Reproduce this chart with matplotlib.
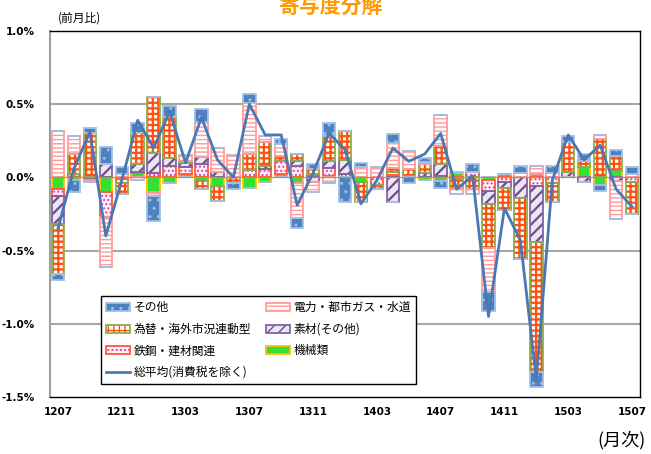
import numpy as np
import matplotlib.pyplot as plt
from matplotlib.patches import Patch
from matplotlib.lines import Line2D

plt.rcParams['font.family'] = ['Noto Sans CJK JP', 'DejaVu Sans']

MONTHS = ['1207', '1208', '1209', '1210', '1211', '1212',
          '1301', '1302', '1303', '1304', '1305', '1306',
          '1307', '1308', '1309', '1310', '1311', '1312',
          '1401', '1402', '1403', '1404', '1405', '1406',
          '1407', '1408', '1409', '1410', '1411', '1412',
          '1501', '1502', '1503', '1504', '1505', '1506', '1507']

# contributions (% points), stacking order from zero outwards
kikai = [-0.08, -0.02, 0.00, -0.10, -0.01, 0.03, -0.10, -0.04, 0.02, -0.02, -0.06, 0.00,
         -0.07, -0.03, 0.025, -0.035, 0.01, 0.01, 0.00, -0.03, 0.00, 0.015, 0.01, -0.015,
         -0.025, 0.03, 0.00, -0.02, 0.025, 0.00, 0.02, 0.00, 0.00, 0.07, -0.055, 0.045, 0.00]
tekko = [-0.05, 0.02, -0.01, -0.17, -0.03, 0.01, 0.03, 0.08, 0.05, 0.09, 0.00, 0.00,
         0.05, 0.055, 0.09, 0.08, 0.01, 0.055, 0.02, 0.00, -0.05, 0.02, 0.00, 0.00,
         0.01, -0.01, 0.035, -0.07, -0.03, 0.00, -0.06, -0.04, 0.00, 0.00, 0.00, 0.00, -0.03]
sozai = [-0.19, 0.00, -0.01, 0.09, 0.00, 0.05, 0.14, 0.05, 0.03, 0.05, 0.04, 0.00,
         0.00, 0.02, 0.00, 0.03, -0.03, 0.045, 0.10, 0.00, 0.00, -0.165, 0.00, 0.03,
         0.08, 0.00, 0.00, -0.09, -0.04, -0.14, -0.38, 0.00, 0.035, -0.03, 0.00, -0.025, 0.00]
kawase = [-0.34, 0.14, 0.30, 0.00, -0.07, 0.21, 0.38, 0.28, 0.01, -0.06, -0.10, -0.04,
          0.11, 0.17, 0.03, 0.05, 0.04, 0.17, 0.20, -0.14, -0.03, 0.03, 0.05, 0.06,
          0.125, -0.07, -0.08, -0.305, -0.15, -0.42, -0.89, -0.13, 0.21, 0.04, 0.26, 0.10, -0.22]
denryoku = [0.32, 0.12, -0.01, -0.34, 0.02, -0.02, -0.03, 0.00, 0.04, 0.24, 0.16, 0.15,
            0.35, 0.04, 0.08, -0.24, -0.07, -0.035, 0.00, 0.07, 0.07, 0.17, 0.12, 0.015,
            0.21, -0.03, -0.03, -0.295, 0.00, 0.03, 0.06, 0.03, 0.00, 0.00, 0.03, -0.26, 0.02]
sonota = [-0.04, -0.08, 0.04, 0.12, 0.05, 0.07, -0.17, 0.08, 0.00, 0.09, 0.00, -0.04,
          0.06, 0.00, 0.035, -0.07, 0.03, 0.09, -0.17, 0.03, 0.00, 0.06, -0.04, 0.025,
          -0.05, 0.01, 0.055, -0.135, 0.00, 0.045, -0.10, 0.045, 0.04, 0.05, -0.035, 0.04, 0.05]
total = [-0.35, 0.06, 0.31, -0.40, -0.02, 0.39, 0.20, 0.45, 0.10, 0.41, 0.12, 0.00,
         0.50, 0.29, 0.29, -0.19, 0.03, 0.30, 0.19, -0.18, -0.02, 0.20, 0.11, 0.16,
         0.30, -0.08, 0.01, -0.95, -0.21, -0.43, -1.38, -0.02, 0.29, 0.12, 0.22, -0.08, -0.20]

# name, values, face, hatch, hatch colour, outline, hatch width
SERIES = [
    ('機械類', kikai, '#33E033', None, '#33E033', '#FFC000', 1.0),
    ('鉄鋼・建材関連', tekko, '#FFF2FA', '....', '#E040B0', '#FF5A3C', 1.0),
    ('素材(その他)', sozai, '#EDE6F2', '///', '#6A4C8C', '#8064A2', 1.6),
    ('為替・海外市況連動型', kawase, 'white', '+++', '#FF5010', '#8FAE4F', 1.6),
    ('電力・都市ガス・水道', denryoku, 'white', '----', '#FF9C9C', '#FF9C9C', 1.0),
    ('その他', sonota, '#4F81BD', '..', '#9CBDE6', '#9DC0EA', 1.0),
]

fig = plt.figure(figsize=(6.51, 4.54), dpi=100)
ax = fig.add_axes([50 / 651, 1 - 397 / 454, 590 / 651, 366 / 454])

x = np.arange(len(MONTHS))
width = 0.78
pos_base = np.zeros(len(x))
neg_base = np.zeros(len(x))
handles = {}
for name, vals, face, hatch, hcol, edge, hlw in SERIES:
    v = np.array(vals)
    pos = np.where(v > 0, v, 0)
    neg = np.where(v < 0, v, 0)
    with plt.rc_context({'hatch.linewidth': hlw}):
        for part, base in ((pos, pos_base), (neg, neg_base)):
            ax.bar(x, part, width, bottom=base, color=face, hatch=hatch,
                   edgecolor=hcol, linewidth=0, zorder=2)
            ax.bar(x, part, width, bottom=base, fill=False,
                   edgecolor=edge, linewidth=1.3, zorder=3)
        fill = Patch(facecolor=face, hatch=hatch, edgecolor=hcol, linewidth=0)
    outline = Patch(fill=False, edgecolor=edge, linewidth=1.3)
    handles[name] = (fill, outline)
    pos_base += pos
    neg_base += neg

ax.plot(x, total, color='#4A78B5', linewidth=2, zorder=5)

ax.set_xlim(-0.5, len(x) - 0.5)
ax.set_ylim(-1.5, 1.0)
yt = [1.0, 0.5, 0.0, -0.5, -1.0, -1.5]
ax.set_yticks(yt)
ax.set_yticklabels([f'{v:.1f}%' for v in yt], family=['Liberation Sans Narrow', 'DejaVu Sans'],
                   fontsize=7.5, fontweight='bold')
ax.set_xticks(x[::4])
ax.set_xticklabels(MONTHS[::4], family=['Liberation Sans Narrow', 'DejaVu Sans'],
                   fontsize=7.5, fontweight='bold')
ax.tick_params(length=0)
ax.tick_params(axis='y', pad=11)
ax.tick_params(axis='x', pad=7)
for g in [0.5, -0.5, -1.0]:
    ax.axhline(g, color='#A6A6A6', linewidth=1.5, zorder=1)
ax.axhline(0, color='#C09050', linewidth=0.9, zorder=4)
for s in ax.spines.values():
    s.set_color('black')
    s.set_linewidth(1.0)
ax.spines['left'].set_color('#A0A0A0')
ax.spines['left'].set_linewidth(1.5)

order = ['その他', '為替・海外市況連動型', '鉄鋼・建材関連', None,
         '電力・都市ガス・水道', '素材(その他)', '機械類']
hs, ls = [], []
for n in order:
    if n is None:
        hs.append(Line2D([], [], color='#4A78B5', linewidth=2))
        ls.append('総平均(消費税を除く)')
    else:
        hs.append(handles[n])
        ls.append(n)
leg = fig.legend(hs, ls, ncol=2, loc='upper left',
                 bbox_to_anchor=(101 / 651, 1 - 296 / 454), borderaxespad=0,
                 fontsize=8.5, handlelength=2.0, handleheight=0.7,
                 labelspacing=0.72, columnspacing=1.3, handletextpad=0.3,
                 borderpad=0.45, fancybox=False, framealpha=1)
leg.get_frame().set_edgecolor('black')
leg.get_frame().set_linewidth(1.0)

fig.text(0.508, 1 - 18 / 454, '寄与度分解', color='#FF9900', fontsize=15,
         fontweight='bold', ha='center', va='bottom')
fig.text(58 / 651, 1 - 18 / 454, '(前月比)', fontsize=8.5, ha='left', va='center')
fig.text(646 / 651, 1 - 440 / 454, '(月次)', fontsize=13, ha='right', va='center')

fig.savefig('out.png', dpi=100)
